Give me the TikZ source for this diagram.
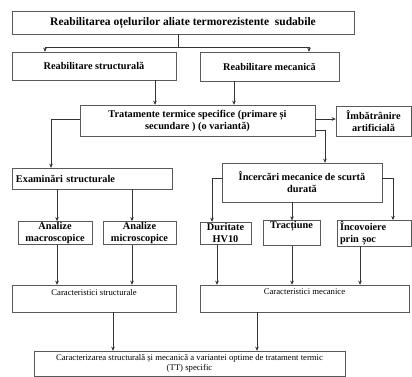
\documentclass[tikz,border=0pt]{standalone}
\usepackage{fontspec}
\setmainfont{Liberation Serif}
\usetikzlibrary{arrows.meta}
\begin{document}
\begin{tikzpicture}[x=1pt,y=-1pt,
  box/.style={draw=black!65, line width=0.5pt, inner sep=1pt, align=center,
    font=\bfseries\fontsize{10.3}{12}\selectfont},
  lbox/.style={box, align=left},
  rbox/.style={box, font=\fontsize{8.7}{10}\selectfont},
  conn/.style={draw=black!80, line width=0.5pt},
  arr/.style={conn, -{Stealth[length=4pt,width=3.5pt]}}]
\useasboundingbox (0,0) rectangle (412,376);
% boxes
\node[box, font=\bfseries\fontsize{11.5}{13}\selectfont, minimum width=342, minimum height=23] (top) at (183,22.5) {Reabilitarea oțelurilor aliate termorezistente \ sudabile};
\node[box, minimum width=164, minimum height=28] (rs) at (94,66) {Reabilitare structurală};
\node[box, minimum width=139, minimum height=29] (rm) at (269.5,66.5) {Reabilitare mecanică};
\node[box, minimum width=235, minimum height=31] (tt) at (197.5,120.5) {Tratamente termice specifice (primare și\\ secundare ) (o variantă)};
\node[box, minimum width=75, minimum height=30] (imb) at (373.5,121) {Îmbătrânire\\ artificială};
\node[lbox, text width=152, minimum width=160, minimum height=21] (ex) at (92,178.5) {Examinări structurale};
\node[box, minimum width=160, minimum height=39] (inc) at (302,182.5) {Încercări mecanice de scurtă\\ durată};
\node[box, minimum width=74, minimum height=22] (am) at (55,233) {Analize\\ macroscopice};
\node[box, minimum width=73, minimum height=22] (ami) at (139.5,233) {Analize\\ microscopice};
\node[box, minimum width=51, minimum height=22] (dur) at (225.5,233) {Duritate\\ HV10};
\node[box, minimum width=57, minimum height=22] (tr) at (291.5,233) {Tracțiune\\ \strut};
\node[lbox, text width=68, minimum width=74, minimum height=22] (inv) at (374,233) {Încovoiere\\ prin șoc};
\node[rbox, minimum width=164, minimum height=27] (cs) at (94,298.5) {Caracteristici structurale\\ \strut};
\node[rbox, minimum width=209, minimum height=27] (cm) at (304.5,298.5) {Caracteristici mecanice\\ \strut};
\node[rbox, minimum width=311, minimum height=25] (fin) at (189.5,363.5) {Caracterizarea structurală și mecanică a variantei optime de tratament termic\\ (TT) specific};
% junction coordinates
\coordinate (j1) at (178,47);
\coordinate (bL) at (45,47);
\coordinate (bR) at (309,47);
\coordinate (v1) at (155,90);
\coordinate (v2) at (234,90);
\coordinate (e1) at (51,150);
\coordinate (i1) at (325,150);
\coordinate (d1) at (212,200);
\coordinate (d2) at (393,200);
\coordinate (k1) at (57,200);
\coordinate (k2) at (132,200);
\coordinate (m1) at (217,260);
\coordinate (m2) at (292,260);
\coordinate (m3) at (360,260);
\coordinate (f1) at (113,330);
\coordinate (f2) at (257,330);
% connectors
\draw[conn] (j1 |- top.south) -- (j1);
\draw[arr] (j1) -- (bL) -- (bL |- rs.north);
\draw[arr] (j1) -- (bR) -- (bR |- rm.north);
\draw[arr] (v1 |- rs.south) -- (v1 |- tt.north);
\draw[arr] (v2 |- rm.south) -- (v2 |- tt.north);
\draw[arr] ([yshift=1.5pt]tt.east) -- ([yshift=1.5pt]tt.east -| imb.west);
\draw[arr] ([yshift=1.5pt]tt.west) -| (e1 |- ex.north);
\draw[arr] ([yshift=-10pt]tt.east) -| (i1 |- inc.north);
\draw[arr] ([yshift=4.5pt]inc.west) -| (d1 |- dur.north);
\draw[arr] ([yshift=4.5pt]inc.east) -| (d2 |- inv.north);
\draw[arr] (m2 |- inc.south) -- (m2 |- tr.north);
\draw[arr] (k1 |- ex.south) -- (k1 |- am.north);
\draw[arr] (k2 |- ex.south) -- (k2 |- ami.north);
\draw[arr] (k1 |- am.south) -- (k1 |- cs.north);
\draw[arr] (k2 |- ami.south) -- (k2 |- cs.north);
\draw[arr] (m1 |- dur.south) -- (m1 |- cm.north);
\draw[arr] (m2 |- tr.south) -- (m2 |- cm.north);
\draw[arr] (m3 |- inv.south) -- (m3 |- cm.north);
\draw[arr] (f1 |- cs.south) -- (f1 |- fin.north);
\draw[arr] (f2 |- cm.south) -- (f2 |- fin.north);
\end{tikzpicture}
\end{document}
